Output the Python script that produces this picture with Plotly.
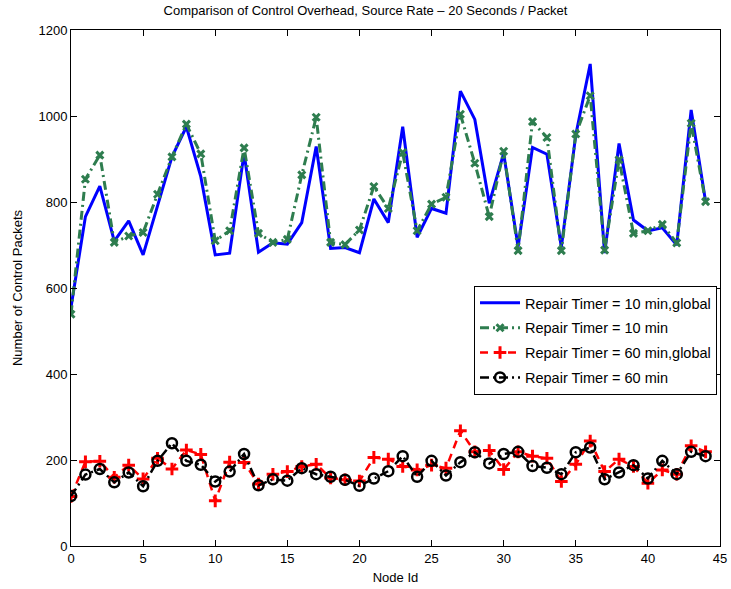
import plotly.graph_objects as go

node_id = list(range(45))

timer10_global = [555, 766, 837, 709, 756, 677, 791, 905, 975, 859,
                  677, 681, 913, 683, 705, 702, 752, 929, 692, 694,
                  682, 807, 752, 975, 718, 785, 774, 1058, 992, 797,
                  913, 696, 927, 911, 695, 956, 1121, 681, 936, 758,
                  733, 740, 700, 1014, 801]

timer10 = [539, 853, 909, 706, 721, 729, 818, 905, 981, 912,
           710, 733, 926, 727, 706, 713, 863, 997, 706, 701,
           735, 836, 785, 915, 733, 795, 811, 1004, 890, 766,
           918, 687, 987, 950, 687, 958, 1047, 688, 898, 727,
           733, 748, 705, 983, 801]

timer60_global = [115, 196, 197, 160, 188, 156, 204, 179, 223, 213,
                  105, 195, 194, 144, 167, 173, 185, 190, 158, 154,
                  151, 206, 202, 185, 177, 188, 181, 268, 219, 222,
                  178, 219, 209, 204, 150, 190, 244, 173, 202, 185,
                  146, 177, 167, 233, 219]

timer60 = [116, 166, 179, 148, 171, 139, 198, 239, 198, 189,
           150, 173, 214, 141, 155, 152, 181, 167, 161, 154,
           140, 157, 174, 209, 161, 198, 164, 195, 218, 192,
           214, 219, 186, 182, 167, 218, 229, 155, 171, 188,
           157, 198, 167, 219, 209]

names = ["Repair Timer = 10 min,global", "Repair Timer = 10 min",
         "Repair Timer = 60 min,global", "Repair Timer = 60 min"]

fig = go.Figure()
fig.add_trace(go.Scatter(x=node_id, y=timer10_global, name=names[0], mode="lines",
                         legendgroup="a",
                         line=dict(color="#0000ff", width=3)))
fig.add_trace(go.Scatter(x=node_id, y=timer10, name=names[1], mode="lines+markers",
                         legendgroup="b",
                         line=dict(color="#2e7d4f", width=3, dash="9px,4px,2px,4px"),
                         marker=dict(symbol="x-thin", size=7, color="#2e7d4f",
                                     line=dict(color="#2e7d4f", width=3))))
fig.add_trace(go.Scatter(x=node_id, y=timer60_global, name=names[2], mode="lines+markers",
                         legendgroup="c",
                         line=dict(color="#ff0000", width=2.5, dash="8px,6px"),
                         marker=dict(symbol="cross-thin", size=9, color="#ff0000",
                                     line=dict(color="#ff0000", width=3))))
fig.add_trace(go.Scatter(x=node_id, y=timer60, name=names[3], mode="lines+markers",
                         legendgroup="d",
                         line=dict(color="#000000", width=2.5, dash="9px,4px,2px,4px"),
                         marker=dict(symbol="circle-open", size=10, color="#000000",
                                     line=dict(color="#000000", width=2.5))))

axis_common = dict(showgrid=False, zeroline=False, showline=True, linecolor="black",
                   linewidth=1, mirror="ticks", ticks="inside", ticklen=6,
                   tickcolor="black", tickfont=dict(size=13, color="black"),
                   automargin=False)

fig.update_layout(
    width=731, height=589,
    margin=dict(l=71, r=11, t=30, b=43),
    paper_bgcolor="white", plot_bgcolor="white",
    font=dict(family="Liberation Sans, Arial, sans-serif", size=13, color="black"),
    title=dict(text="Comparison of Control Overhead, Source Rate \u2013 20 Seconds / Packet",
               x=0.5, xanchor="center", y=0.982, yanchor="middle",
               font=dict(size=13)),
    xaxis=dict(range=[0, 45], tickvals=[0, 5, 10, 15, 20, 25, 30, 35, 40, 45],
               title=dict(text="Node Id", standoff=8, font=dict(size=13)), **axis_common),
    yaxis=dict(range=[0, 1200], tickvals=[0, 200, 400, 600, 800, 1000, 1200],
               title=dict(text="Number of Control Packets", standoff=12, font=dict(size=13)),
               **axis_common),
    legend=dict(x=0.9954, xanchor="right", y=0.504, yanchor="top",
                bgcolor="white", bordercolor="black", borderwidth=1,
                font=dict(size=14.5), tracegroupgap=3, itemwidth=40),
    showlegend=True,
)

fig.write_html("out.html")
